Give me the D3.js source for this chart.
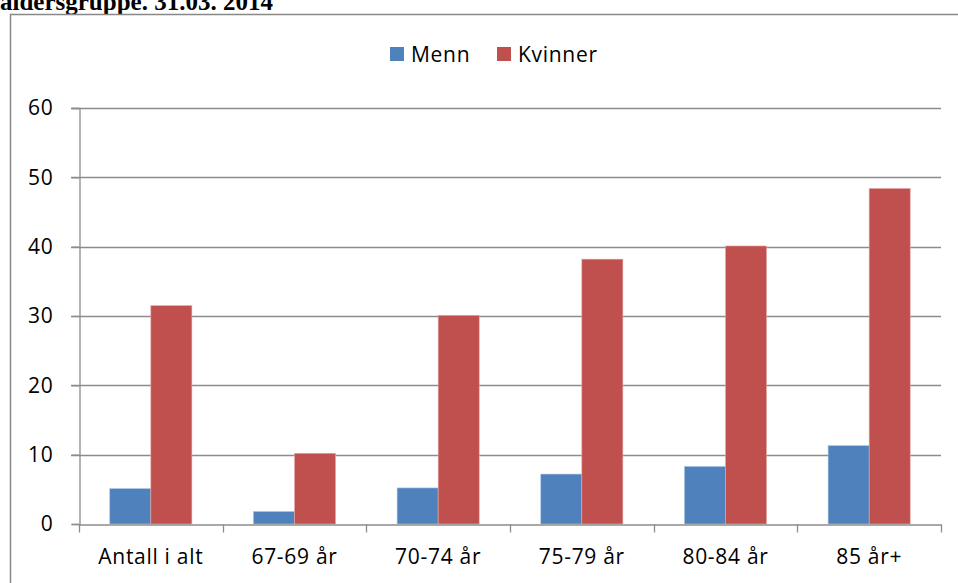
<!DOCTYPE html>
<html>
<head>
<meta charset="utf-8">
<script src="https://cdn.jsdelivr.net/npm/d3@7"></script>
<style>
  body { margin: 0; background: #fff; }
  svg { display: block; }
</style>
</head>
<body>
<script>
// values
var categories = ["Antall i alt", "67-69 år", "70-74 år", "75-79 år", "80-84 år", "85 år+"];
var seriesNames = ["Menn", "Kvinner"];
var menn = [5.1, 1.8, 5.2, 7.2, 8.3, 11.3];
var kvinner = [31.5, 10.2, 30.1, 38.2, 40.1, 48.4];
var yTicks = [0, 10, 20, 30, 40, 50, 60];
var colours = ["#4F81BD", "#C0504D"];

var width = 958, height = 583;
var font = "'Open Sans', 'Noto Sans', sans-serif";
var fontSize = 21;
var spacing = "0.7px";

var svg = d3.select("body").append("svg")
  .attr("width", width)
  .attr("height", height);

// title, cut off at the top like the original
svg.append("text")
  .attr("x", 0)
  .attr("y", 10)
  .attr("font-family", "'Liberation Serif', 'Times New Roman', serif")
  .attr("font-weight", "bold")
  .attr("font-size", 25)
  .attr("fill", "#000")
  .text("aldersgruppe. 31.03. 2014");

// chart frame
svg.append("rect")
  .attr("x", 10.5)
  .attr("y", 14.5)
  .attr("width", 980)
  .attr("height", 620)
  .attr("fill", "none")
  .attr("stroke", "#888")
  .attr("stroke-width", 1.5);

var plot = { left: 79, right: 941, top: 108, bottom: 524 };

var x0 = d3.scaleBand()
  .domain(categories)
  .range([plot.left, plot.right])
  .paddingInner(0)
  .paddingOuter(0);

var x1 = d3.scaleBand()
  .domain(seriesNames)
  .range([0, x0.bandwidth()])
  .paddingInner(0)
  .paddingOuter(0.75);

var y = d3.scaleLinear()
  .domain([0, 60])
  .range([plot.bottom, plot.top]);

// gridlines
svg.append("g")
  .selectAll("line")
  .data(yTicks.filter(function(d) { return d > 0; }))
  .enter().append("line")
  .attr("x1", plot.left - 8)
  .attr("x2", plot.right)
  .attr("y1", function(d) { return Math.round(y(d)) + 0.5; })
  .attr("y2", function(d) { return Math.round(y(d)) + 0.5; })
  .attr("stroke", "#8c8c8c")
  .attr("stroke-width", 1.3);

// bars
var data = categories.map(function(c, i) {
  return { cat: c, values: [menn[i], kvinner[i]] };
});

var groups = svg.append("g")
  .selectAll("g")
  .data(data)
  .enter().append("g")
  .attr("transform", function(d) { return "translate(" + x0(d.cat) + ",0)"; });

groups.selectAll("rect")
  .data(function(d) { return d.values.map(function(v, j) { return { name: seriesNames[j], v: v, j: j }; }); })
  .enter().append("rect")
  .attr("x", function(d) { return x1(d.name); })
  .attr("y", function(d) { return y(d.v); })
  .attr("width", x1.bandwidth())
  .attr("height", function(d) { return y(0) - y(d.v); })
  .attr("fill", function(d) { return colours[d.j]; })
  .attr("stroke", function(d) { return d.j == 0 ? "#a9c1e0" : "#e3a9a8"; })
  .attr("stroke-width", 0.6);

// y axis
var yAxis = d3.axisLeft(y)
  .tickValues(yTicks)
  .tickSize(8)
  .tickPadding(18);

var yg = svg.append("g")
  .attr("transform", "translate(" + (plot.left + 0.5) + ",0)")
  .call(yAxis);
yg.select(".domain").attr("stroke", "#8c8c8c").attr("stroke-width", 1.3);
yg.selectAll(".tick line").attr("stroke", "#8c8c8c").attr("stroke-width", 1.3);
yg.selectAll(".tick text")
  .attr("font-family", font)
  .attr("font-size", fontSize)
  .attr("letter-spacing", spacing)
  .attr("fill", "#000");

// x axis
var xAxis = d3.axisBottom(x0).tickSize(0).tickPadding(25);
var xg = svg.append("g")
  .attr("transform", "translate(0," + (plot.bottom + 0.5) + ")")
  .call(xAxis);
xg.select(".domain").attr("stroke", "#8c8c8c").attr("stroke-width", 1.3);
xg.selectAll(".tick text")
  .attr("font-family", font)
  .attr("font-size", fontSize)
  .attr("letter-spacing", spacing)
  .attr("fill", "#000");

// category boundary ticks
xg.selectAll(".bound")
  .data(d3.range(categories.length + 1))
  .enter().append("line")
  .attr("class", "bound")
  .attr("x1", function(i) { return Math.round(plot.left + i * x0.step()) + 0.5; })
  .attr("x2", function(i) { return Math.round(plot.left + i * x0.step()) + 0.5; })
  .attr("y1", 0)
  .attr("y2", 8)
  .attr("stroke", "#8c8c8c")
  .attr("stroke-width", 1.3);

// legend
var legendX = [390, 497];
var legend = svg.append("g");
seriesNames.forEach(function(name, i) {
  legend.append("rect")
    .attr("x", legendX[i])
    .attr("y", 47)
    .attr("width", 14)
    .attr("height", 14)
    .attr("fill", colours[i]);
  legend.append("text")
    .attr("x", legendX[i] + 21)
    .attr("y", 62)
    .attr("font-family", font)
    .attr("font-size", fontSize)
    .attr("letter-spacing", spacing)
    .attr("fill", "#000")
    .text(name);
});
</script>
</body>
</html>
